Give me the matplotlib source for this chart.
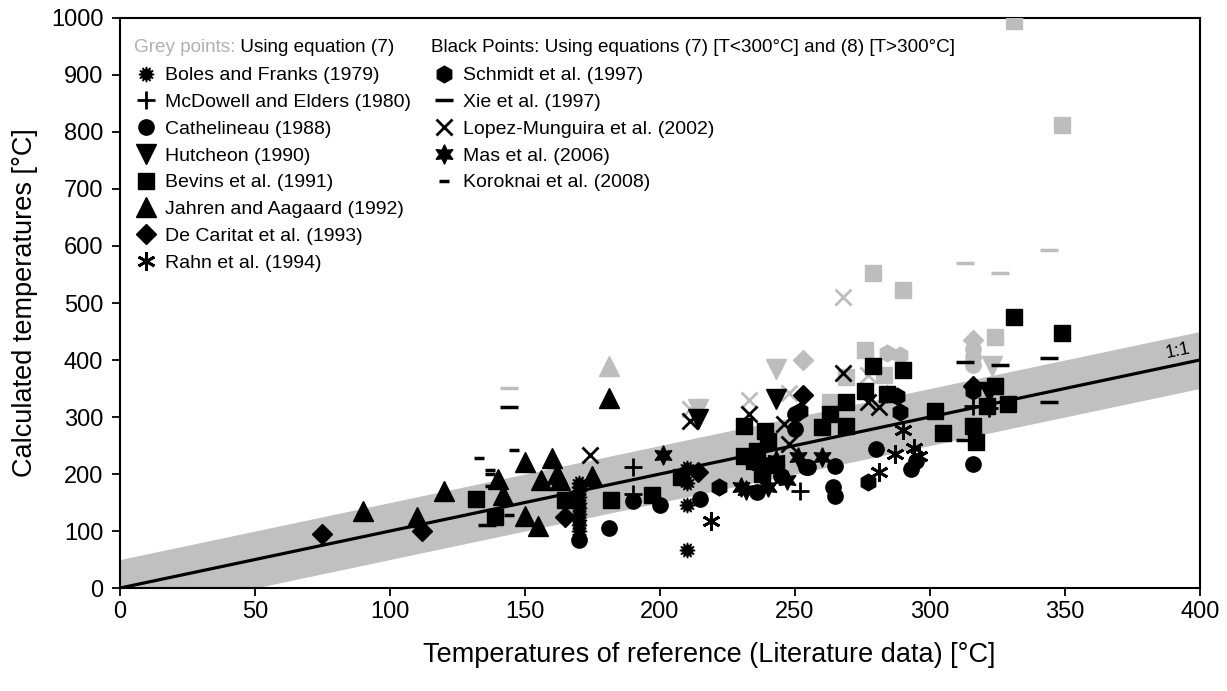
import numpy as np
import matplotlib
matplotlib.use("Agg")
import matplotlib.pyplot as plt

plt.rcParams["font.family"] = ["Liberation Sans", "DejaVu Sans"]

GREY = "#bdbdbd"

# ---- data (reference T, calculated T) ----
boles_x = [170, 170, 170, 170, 170, 170, 170, 170, 170, 170, 170, 210, 210, 210, 210]
boles_y = [185, 178, 170, 160, 150, 140, 130, 120, 110, 100, 88, 67, 146, 185, 210]

mcdowell_x = [190, 190, 252, 316, 322]
mcdowell_y = [213, 165, 170, 320, 315]

cathel_x = [170, 181, 190, 200, 215, 236, 245, 255, 265, 264, 265, 280, 293, 295, 316, 250, 250, 240, 236, 243, 254]
cathel_y = [85, 105, 152, 146, 157, 168, 196, 212, 214, 177, 161, 244, 208, 222, 217, 306, 279, 215, 230, 220, 212]
cathel_grey_x = [316, 316, 316]
cathel_grey_y = [420, 405, 392]

hutch_x = [214, 243, 322]
hutch_y = [297, 332, 344]
hutch_grey_x = [214, 243, 323]
hutch_grey_y = [314, 385, 390]

bevins_x = [132, 139, 165, 182, 197, 208, 231, 239, 231, 260, 269, 269, 276, 279, 290, 284, 263,
            302, 305, 316, 317, 324, 321, 329, 331, 349, 236, 240, 243, 238, 235]
bevins_y = [157, 124, 155, 155, 164, 194, 285, 276, 231, 283, 327, 285, 346, 390, 382, 341, 306,
            311, 272, 284, 256, 355, 320, 323, 475, 447, 240, 258, 215, 200, 222]
bevins_grey_x = [331, 349, 279, 290, 324, 276, 269, 263, 283]
bevins_grey_y = [995, 812, 553, 522, 441, 417, 371, 327, 373]

jahren_x = [90, 110, 120, 140, 142, 150, 150, 156, 155, 160, 162, 163, 175, 181]
jahren_y = [135, 125, 171, 191, 164, 221, 127, 189, 108, 228, 200, 190, 196, 334]
jahren_grey_x = [181]
jahren_grey_y = [390]

decar_x = [75, 112, 165, 214, 253, 316]
decar_y = [95, 100, 125, 203, 338, 355]
decar_grey_x = [253, 316]
decar_grey_y = [400, 435]

rahn_x = [219, 281, 287, 290, 294, 296]
rahn_y = [117, 203, 235, 278, 246, 232]

schmidt_x = [222, 277, 284, 288, 252, 289, 316]
schmidt_y = [178, 186, 341, 337, 311, 309, 346]
schmidt_grey_x = [284, 289]
schmidt_grey_y = [412, 408]

xie_x = [144, 313, 326, 344, 344, 313, 136]
xie_y = [318, 397, 392, 404, 327, 260, 110]
xie_grey_x = [144, 313, 326, 344]
xie_grey_y = [351, 570, 553, 593]

lopez_x = [174, 211, 233, 246, 248, 268, 277, 281]
lopez_y = [233, 293, 306, 288, 253, 378, 327, 318]
lopez_grey_x = [211, 233, 248, 268, 277]
lopez_grey_y = [314, 330, 342, 510, 373]

mas_x = [201, 230, 240, 251, 260, 237, 243, 232, 247]
mas_y = [233, 177, 177, 230, 230, 215, 225, 172, 190]

koroknai_x = [133, 146, 137, 137, 137, 144]
koroknai_y = [228, 242, 207, 200, 179, 129]

ref_x = np.array([0.0, 400.0])
band = 50.0

# ---- style per series ----
series = [
    ("Boles and Franks (1979)", boles_x, boles_y, None, None, dict(marker=(12, 1, 0), ms=11)),
    ("McDowell and Elders (1980)", mcdowell_x, mcdowell_y, None, None, dict(marker="+", ms=13, mew=2)),
    ("Cathelineau (1988)", cathel_x, cathel_y, cathel_grey_x, cathel_grey_y, dict(marker="o", ms=11)),
    ("Hutcheon (1990)", hutch_x, hutch_y, hutch_grey_x, hutch_grey_y, dict(marker="v", ms=14)),
    ("Bevins et al. (1991)", bevins_x, bevins_y, bevins_grey_x, bevins_grey_y, dict(marker="s", ms=11.5)),
    ("Jahren and Aagaard (1992)", jahren_x, jahren_y, jahren_grey_x, jahren_grey_y, dict(marker="^", ms=14)),
    ("De Caritat et al. (1993)", decar_x, decar_y, decar_grey_x, decar_grey_y, dict(marker="D", ms=10)),
    ("Rahn et al. (1994)", rahn_x, rahn_y, None, None, dict(marker=(6, 2, 0), ms=13, mew=2)),
    ("Schmidt et al. (1997)", schmidt_x, schmidt_y, schmidt_grey_x, schmidt_grey_y, dict(marker="h", ms=12)),
    ("Xie et al. (1997)", xie_x, xie_y, xie_grey_x, xie_grey_y, dict(marker="_", ms=13, mew=2.5)),
    ("Lopez-Munguira et al. (2002)", lopez_x, lopez_y, lopez_grey_x, lopez_grey_y, dict(marker="x", ms=12, mew=2)),
    ("Mas et al. (2006)", mas_x, mas_y, None, None, dict(marker=(6, 1, 0), ms=14)),
    ("Koroknai et al. (2008)", koroknai_x, koroknai_y, None, None, dict(marker="_", ms=7, mew=2.5)),
]

fig = plt.figure(figsize=(12.27, 6.91), dpi=100)
ax = fig.add_axes([0.0978, 0.149, 0.880, 0.825])

ax.fill_between(ref_x, ref_x - band, ref_x + band, color="#c0c0c0", lw=0, zorder=1)
ax.plot(ref_x, ref_x, color="black", lw=2.3, zorder=2)
ax.text(392, 416, "1:1", rotation=11.8, ha="center", va="center", fontsize=13, zorder=2)

handles = []
for label, x, y, gx, gy, st in series:
    if gx is not None:
        ax.plot(gx, gy, ls="none", color=GREY, mec=GREY, zorder=3, clip_on=True, **st)
    (h,) = ax.plot(x, y, ls="none", color="black", mec="black", zorder=4, label=label, **st)
    handles.append(h)

ax.set_xlim(0, 400)
ax.set_ylim(0, 1000)
ax.set_xticks(np.arange(0, 401, 50))
ax.set_yticks(np.arange(0, 1001, 100))
ax.tick_params(direction="out", length=6, width=1.3, labelsize=17, top=False, right=False)
ax.tick_params(axis="y", pad=6)
for s in ax.spines.values():
    s.set_linewidth(1.5)
ax.set_xlabel("Temperatures of reference (Literature data) [°C]", fontsize=19.5, labelpad=16)
ax.xaxis.set_label_coords(0.546, -0.095)
ax.set_ylabel("Calculated temperatures [°C]", fontsize=19.5, labelpad=9)

# header texts
t1 = ax.text(0.013, 0.948, "Grey points:", transform=ax.transAxes, color="#b0b0b0",
             fontsize=13.6, va="center")
ax.annotate(" Using equation (7)", xy=(1, 0.5), xycoords=t1, va="center", fontsize=13.6)
ax.text(0.288, 0.948, "Black Points: Using equations (7) [T<300°C] and (8) [T>300°C]",
        transform=ax.transAxes, fontsize=13.6, va="center")

leg_kw = dict(frameon=False, fontsize=14, handlelength=1.0, handletextpad=0.45,
              labelspacing=0.47, borderaxespad=0, numpoints=1, loc="upper left")
leg1 = ax.legend(handles=handles[:8], bbox_to_anchor=(0.008, 0.928), **leg_kw)
ax.add_artist(leg1)
ax.legend(handles=handles[8:], bbox_to_anchor=(0.284, 0.928), **leg_kw)

fig.savefig("out.png", dpi=100)
